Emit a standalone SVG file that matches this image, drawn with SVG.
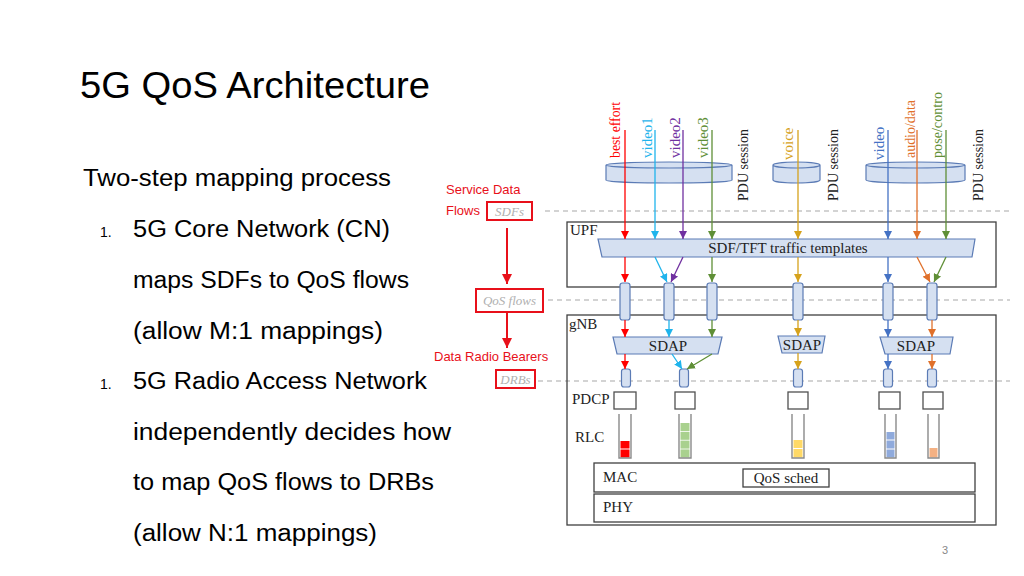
<svg xmlns="http://www.w3.org/2000/svg" width="1024" height="576" viewBox="0 0 1024 576">
<style>
.sans{font-family:"Liberation Sans",Arial,sans-serif}
.body{font-family:"Liberation Sans",Arial,sans-serif;font-size:23px;fill:#000}
.num{font-family:"Liberation Sans",Arial,sans-serif;font-size:14px;fill:#000}
.red{font-family:"Liberation Sans",Arial,sans-serif;font-size:13px;fill:#e8101a}
.gray{font-family:"Liberation Serif","Times New Roman",serif;font-style:italic;font-size:13px;fill:#b0b0b0}
.rbox{fill:none;stroke:#e8101a;stroke-width:2}
.dash{stroke:#a8a8a8;stroke-width:1.2;stroke-dasharray:5 4;fill:none}
.box{fill:none;stroke:#404040;stroke-width:1.3}
.trap{fill:#d5e0f1;stroke:#5b7bb5;stroke-width:1.2}
.pipe{fill:#d5e0f1;stroke:#5b7bb5;stroke-width:1.2}
.lbl{font-family:"Liberation Serif","Times New Roman",serif;font-size:15px;fill:#222}
.plbl{font-family:"Liberation Serif","Times New Roman",serif;font-size:14px;fill:#222}
.vlbl{font-family:"Liberation Serif","Times New Roman",serif;font-size:15px}
.pdcp{fill:#fff;stroke:#505050;stroke-width:1.3}
.tube{fill:none;stroke:#8a8a8a;stroke-width:1.4}
</style>
<defs>
<marker id="aR" viewBox="0 0 10 10" refX="10" refY="5" markerUnits="userSpaceOnUse" markerWidth="8" markerHeight="8" orient="auto"><path d="M0,0 L10,5 L0,10 z" fill="#ff0000"/></marker>
<marker id="aC" viewBox="0 0 10 10" refX="10" refY="5" markerUnits="userSpaceOnUse" markerWidth="8" markerHeight="8" orient="auto"><path d="M0,0 L10,5 L0,10 z" fill="#1fb4ec"/></marker>
<marker id="aP" viewBox="0 0 10 10" refX="10" refY="5" markerUnits="userSpaceOnUse" markerWidth="8" markerHeight="8" orient="auto"><path d="M0,0 L10,5 L0,10 z" fill="#7030a0"/></marker>
<marker id="aG" viewBox="0 0 10 10" refX="10" refY="5" markerUnits="userSpaceOnUse" markerWidth="8" markerHeight="8" orient="auto"><path d="M0,0 L10,5 L0,10 z" fill="#5f8f36"/></marker>
<marker id="aY" viewBox="0 0 10 10" refX="10" refY="5" markerUnits="userSpaceOnUse" markerWidth="8" markerHeight="8" orient="auto"><path d="M0,0 L10,5 L0,10 z" fill="#d6a21c"/></marker>
<marker id="aB" viewBox="0 0 10 10" refX="10" refY="5" markerUnits="userSpaceOnUse" markerWidth="8" markerHeight="8" orient="auto"><path d="M0,0 L10,5 L0,10 z" fill="#4472c4"/></marker>
<marker id="aO" viewBox="0 0 10 10" refX="10" refY="5" markerUnits="userSpaceOnUse" markerWidth="8" markerHeight="8" orient="auto"><path d="M0,0 L10,5 L0,10 z" fill="#e0702a"/></marker>
<marker id="aRed" viewBox="0 0 10 10" refX="10" refY="5" markerUnits="userSpaceOnUse" markerWidth="10" markerHeight="10" orient="auto"><path d="M0,0 L10,5 L0,10 z" fill="#e8101a"/></marker>
</defs>
<rect width="1024" height="576" fill="#fff"/>

<g id="title"><text x="80" y="98" class="sans" font-size="37" textLength="350" lengthAdjust="spacingAndGlyphs">5G QoS Architecture</text></g>

<g id="bullets">
<text x="83" y="186" class="body" textLength="308" lengthAdjust="spacingAndGlyphs">Two-step mapping process</text>
<text x="100" y="237" class="num">1.</text>
<text x="133" y="237" class="body" textLength="257" lengthAdjust="spacingAndGlyphs">5G Core Network (CN)</text>
<text x="133" y="288" class="body" textLength="276" lengthAdjust="spacingAndGlyphs">maps SDFs to QoS flows</text>
<text x="133" y="339" class="body" textLength="250" lengthAdjust="spacingAndGlyphs">(allow M:1 mappings)</text>
<text x="100" y="389" class="num">1.</text>
<text x="133" y="389" class="body" textLength="294" lengthAdjust="spacingAndGlyphs">5G Radio Access Network</text>
<text x="133" y="440" class="body" textLength="318" lengthAdjust="spacingAndGlyphs">independently decides how</text>
<text x="133" y="490" class="body" textLength="301" lengthAdjust="spacingAndGlyphs">to map QoS flows to DRBs</text>
<text x="133" y="541" class="body" textLength="244" lengthAdjust="spacingAndGlyphs">(allow N:1 mappings)</text>
</g>

<g id="legend">
<text x="446" y="194" class="red">Service Data</text>
<text x="446" y="215" class="red">Flows</text>
<rect x="487" y="202" width="45" height="18" class="rbox"/>
<text x="509.5" y="216" class="gray" text-anchor="middle">SDFs</text>
<rect x="476" y="289" width="67" height="23" class="rbox"/>
<text x="509.5" y="305" class="gray" text-anchor="middle">QoS flows</text>
<text x="434" y="361" class="red">Data Radio Bearers</text>
<rect x="496" y="370" width="39" height="18" class="rbox"/>
<text x="515.5" y="384" class="gray" text-anchor="middle">DRBs</text>
</g>

<g id="dashes">
<line x1="545" y1="211" x2="1010" y2="211" class="dash"/>
<line x1="548" y1="300" x2="1010" y2="300" class="dash"/>
<line x1="538" y1="381" x2="1010" y2="381" class="dash"/>
</g>

<g id="upf">
<rect x="567" y="222" width="429" height="65" class="box"/>
<text x="570" y="235" class="lbl">UPF</text>
<path d="M598,239 L975,239 L972,257 L602,257 Z" class="trap"/>
<text x="788" y="253" class="lbl" text-anchor="middle">SDF/TFT traffic  templates</text>
</g>

<g id="gnb">
<rect x="567" y="315" width="429" height="210" class="box"/>
<text x="569" y="329" class="lbl">gNB</text>
<path d="M613,337 L722,337 L718,354 L617,354 Z" class="trap"/>
<text x="668" y="351" class="lbl" text-anchor="middle">SDAP</text>
<path d="M778,336 L825,336 L822,353 L782,353 Z" class="trap"/>
<text x="802" y="350" class="lbl" text-anchor="middle">SDAP</text>
<path d="M880,337 L953,337 L950,354 L885,354 Z" class="trap"/>
<text x="916" y="351" class="lbl" text-anchor="middle">SDAP</text>
<text x="572" y="404" class="lbl">PDCP</text>
<text x="575" y="442" class="lbl">RLC</text>
</g>

<g id="pdu-sessions">
<path d="M606,165 v15 a63,3 0 0 0 126,0 v-15 a63,3 0 0 0 -126,0 z M606,165 a63,3 0 0 0 126,0" class="pipe"/>
<path d="M773,165 v15 a23.5,3 0 0 0 47,0 v-15 a23.5,3 0 0 0 -47,0 z M773,165 a23.5,3 0 0 0 47,0" class="pipe"/>
<path d="M866,165 v15 a49.5,3 0 0 0 99,0 v-15 a49.5,3 0 0 0 -99,0 z M866,165 a49.5,3 0 0 0 99,0" class="pipe"/>
<text transform="translate(748,201) rotate(-90)" class="plbl" textLength="72" lengthAdjust="spacingAndGlyphs">PDU session</text>
<text transform="translate(838,201) rotate(-90)" class="plbl" textLength="72" lengthAdjust="spacingAndGlyphs">PDU session</text>
<text transform="translate(983,201) rotate(-90)" class="plbl" textLength="72" lengthAdjust="spacingAndGlyphs">PDU session</text>
</g>

<g id="flow-labels" class="vlbl">
<text transform="translate(620,158) rotate(-90)" fill="#ff0000" textLength="56" lengthAdjust="spacingAndGlyphs">best effort</text>
<text transform="translate(652,158) rotate(-90)" fill="#1fb4ec">video1</text>
<text transform="translate(680,158) rotate(-90)" fill="#7030a0">video2</text>
<text transform="translate(708,158) rotate(-90)" fill="#5f8f36">video3</text>
<text transform="translate(793,160) rotate(-90)" fill="#d6a21c">voice</text>
<text transform="translate(884,160) rotate(-90)" fill="#4472c4">video</text>
<text transform="translate(915,158) rotate(-90)" fill="#e0702a" textLength="58" lengthAdjust="spacingAndGlyphs">audio/data</text>
<text transform="translate(942,158) rotate(-90)" fill="#5f8f36" textLength="66" lengthAdjust="spacingAndGlyphs">pose/contro</text>
</g>

<g id="qos-flow-pipes">
<rect x="620" y="283" width="10" height="37" rx="2.5" class="pipe"/>
<rect x="664" y="283" width="10" height="37" rx="2.5" class="pipe"/>
<rect x="707" y="283" width="10" height="37" rx="2.5" class="pipe"/>
<rect x="793" y="283" width="10" height="37" rx="2.5" class="pipe"/>
<rect x="883" y="283" width="10" height="37" rx="2.5" class="pipe"/>
<rect x="927" y="283" width="10" height="37" rx="2.5" class="pipe"/>
</g>

<g id="drb-pipes">
<rect x="621.5" y="369" width="9" height="18" rx="2.5" class="pipe"/>
<rect x="679.5" y="369" width="9" height="18" rx="2.5" class="pipe"/>
<rect x="793.5" y="369" width="9" height="18" rx="2.5" class="pipe"/>
<rect x="883.5" y="369" width="9" height="18" rx="2.5" class="pipe"/>
<rect x="927.5" y="369" width="9" height="18" rx="2.5" class="pipe"/>
</g>

<g id="pdcp">
<rect x="614" y="392" width="22" height="17" class="pdcp"/>
<rect x="675" y="392" width="20" height="17" class="pdcp"/>
<rect x="788" y="392" width="20" height="17" class="pdcp"/>
<rect x="879" y="392" width="21" height="17" class="pdcp"/>
<rect x="923" y="392" width="20" height="17" class="pdcp"/>
</g>

<g id="rlc-queues">
<rect x="620.5" y="441" width="9" height="7.5" fill="#ff0000"/>
<rect x="620.5" y="449.5" width="9" height="8" fill="#ff0000"/>
<rect x="680.5" y="423" width="9" height="8" fill="#a9d18e"/>
<rect x="680.5" y="431.8" width="9" height="8" fill="#a9d18e"/>
<rect x="680.5" y="440.6" width="9" height="8" fill="#a9d18e"/>
<rect x="680.5" y="449.4" width="9" height="8.1" fill="#a9d18e"/>
<rect x="793.5" y="440" width="9" height="8" fill="#ffd966"/>
<rect x="793.5" y="449" width="9" height="8.5" fill="#ffd966"/>
<rect x="886.5" y="432" width="8" height="7.5" fill="#8faadc"/>
<rect x="886.5" y="440.5" width="8" height="8" fill="#8faadc"/>
<rect x="886.5" y="449.5" width="8" height="8" fill="#8faadc"/>
<rect x="929.5" y="448" width="8" height="9.5" fill="#f4b183"/>
<path d="M619,414 V458 H631 V414" class="tube"/>
<path d="M679,414 V458 H691 V414" class="tube"/>
<path d="M792,414 V458 H804 V414" class="tube"/>
<path d="M885,414 V458 H896 V414" class="tube"/>
<path d="M928,414 V458 H939 V414" class="tube"/>
</g>

<g id="mac">
<rect x="594" y="463" width="381" height="29" class="box"/>
<text x="603" y="482" class="lbl">MAC</text>
<rect x="743" y="469" width="86" height="18" class="box"/>
<text x="786" y="483" class="lbl" text-anchor="middle">QoS sched</text>
</g>

<g id="phy">
<rect x="594" y="494" width="381" height="28" class="box"/>
<text x="603" y="512" class="lbl">PHY</text>
</g>

<g id="connectors" stroke-width="1.3" fill="none">
<line x1="507" y1="228" x2="507" y2="284" stroke="#e8101a" stroke-width="2" marker-end="url(#aRed)"/>
<line x1="507" y1="313" x2="507" y2="348" stroke="#e8101a" stroke-width="2" marker-end="url(#aRed)"/>

<line x1="625" y1="130" x2="625" y2="239" stroke="#ff0000" marker-end="url(#aR)"/>
<line x1="655" y1="130" x2="655" y2="239" stroke="#1fb4ec" marker-end="url(#aC)"/>
<line x1="683" y1="130" x2="683" y2="239" stroke="#7030a0" marker-end="url(#aP)"/>
<line x1="712" y1="130" x2="712" y2="239" stroke="#5f8f36" marker-end="url(#aG)"/>
<line x1="798" y1="130" x2="798" y2="239" stroke="#d6a21c" marker-end="url(#aY)"/>
<line x1="888" y1="130" x2="888" y2="239" stroke="#4472c4" marker-end="url(#aB)"/>
<line x1="917" y1="130" x2="917" y2="239" stroke="#e0702a" marker-end="url(#aO)"/>
<line x1="946" y1="130" x2="946" y2="239" stroke="#5f8f36" marker-end="url(#aG)"/>

<line x1="625" y1="257" x2="625" y2="282" stroke="#ff0000" marker-end="url(#aR)"/>
<line x1="655" y1="257" x2="667" y2="282" stroke="#1fb4ec" marker-end="url(#aC)"/>
<line x1="683" y1="257" x2="671" y2="282" stroke="#7030a0" marker-end="url(#aP)"/>
<line x1="712" y1="257" x2="712" y2="282" stroke="#5f8f36" marker-end="url(#aG)"/>
<line x1="798" y1="257" x2="798" y2="282" stroke="#d6a21c" marker-end="url(#aY)"/>
<line x1="888" y1="257" x2="888" y2="282" stroke="#4472c4" marker-end="url(#aB)"/>
<line x1="917" y1="257" x2="930" y2="282" stroke="#e0702a" marker-end="url(#aO)"/>
<line x1="946" y1="257" x2="934" y2="282" stroke="#5f8f36" marker-end="url(#aG)"/>

<line x1="625" y1="320" x2="625" y2="337" stroke="#ff0000" marker-end="url(#aR)"/>
<line x1="669" y1="320" x2="669" y2="337" stroke="#1fb4ec" marker-end="url(#aC)"/>
<line x1="712" y1="320" x2="712" y2="337" stroke="#5f8f36" marker-end="url(#aG)"/>
<line x1="798" y1="320" x2="798" y2="336" stroke="#d6a21c" marker-end="url(#aY)"/>
<line x1="888" y1="320" x2="888" y2="337" stroke="#4472c4" marker-end="url(#aB)"/>
<line x1="932" y1="320" x2="932" y2="337" stroke="#e0702a" marker-end="url(#aO)"/>

<line x1="625" y1="354" x2="625" y2="369" stroke="#ff0000" marker-end="url(#aR)"/>
<line x1="672" y1="354" x2="682" y2="369" stroke="#1fb4ec" marker-end="url(#aC)"/>
<line x1="712" y1="354" x2="687" y2="369" stroke="#5f8f36" marker-end="url(#aG)"/>
<line x1="798" y1="353" x2="798" y2="369" stroke="#d6a21c" marker-end="url(#aY)"/>
<line x1="888" y1="354" x2="888" y2="369" stroke="#4472c4" marker-end="url(#aB)"/>
<line x1="932" y1="354" x2="932" y2="369" stroke="#e0702a" marker-end="url(#aO)"/>
</g>

<g id="page-number"><text x="942" y="554" class="sans" font-size="11" fill="#888">3</text></g>
</svg>
